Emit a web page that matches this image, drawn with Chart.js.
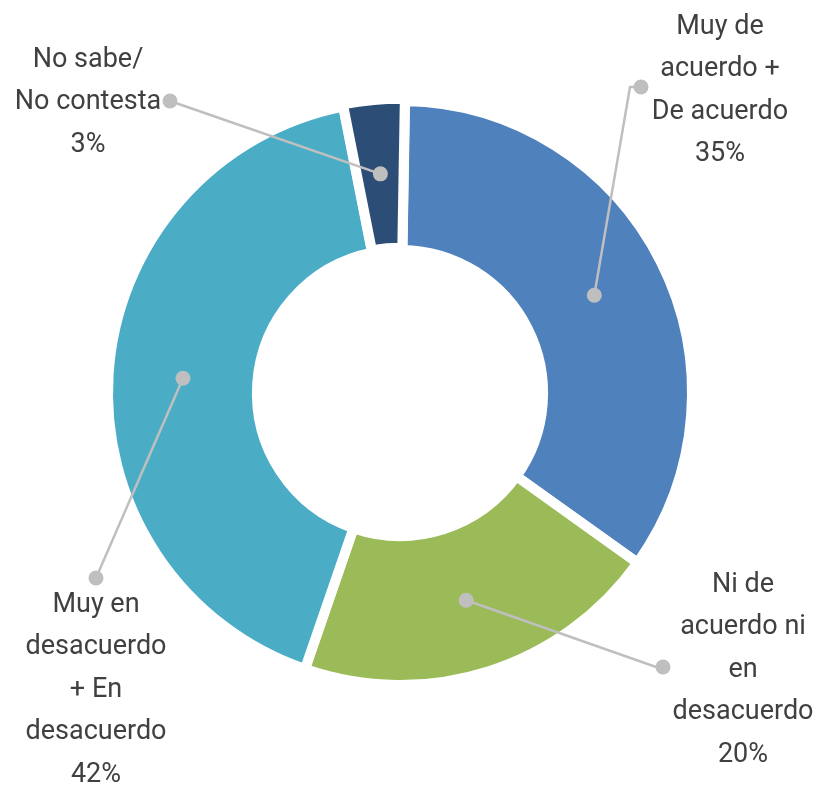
<!DOCTYPE html>
<html>
<head>
<meta charset="utf-8">
<script src="https://cdn.jsdelivr.net/npm/chart.js@4/dist/chart.umd.min.js"></script>
<style>
  html, body { margin: 0; padding: 0; background: #fff; }
  #wrap { width: 817px; height: 786px; }
</style>
</head>
<body>
<div id="wrap"><canvas id="donut" width="817" height="786"></canvas></div>
<script>
// datos del gráfico
const categories = [
  ['Muy de', 'acuerdo +', 'De acuerdo'],
  ['Ni de', 'acuerdo ni', 'en', 'desacuerdo'],
  ['Muy en', 'desacuerdo', '+ En', 'desacuerdo'],
  ['No sabe/', 'No contesta']
];
const values = [34.6, 20.4, 41.6, 3.4];
const pctLabels = ['35%', '20%', '42%', '3%'];
const colors = ['#4F81BD', '#9BBB59', '#4BACC6', '#2C4D75'];

// posición de las etiquetas (layout)
const labelSpots = [
  { elbow: [630, 87], end: [641, 87], tx: 720, ty: 27 },
  { elbow: [656, 667], end: [663, 667], tx: 743, ty: 585 },
  { elbow: [96, 578], end: [96, 578], tx: 96, ty: 605 },
  { elbow: [170, 101], end: [170, 101], tx: 88, ty: 60 }
];
const lineGap = 42.5;

const leaderLabels = {
  id: 'leaderLabels',
  afterDatasetsDraw(chart) {
    const ctx = chart.ctx;
    const arcs = chart.getDatasetMeta(0).data;
    ctx.save();
    arcs.forEach((arc, i) => {
      const p = arc.tooltipPosition();
      const s = labelSpots[i];
      ctx.strokeStyle = '#BFBFBF';
      ctx.fillStyle = '#BFBFBF';
      ctx.lineWidth = 2.5;
      ctx.beginPath();
      ctx.moveTo(p.x, p.y);
      ctx.lineTo(s.elbow[0], s.elbow[1]);
      ctx.lineTo(s.end[0], s.end[1]);
      ctx.stroke();
      ctx.beginPath();
      ctx.arc(p.x, p.y, 7.5, 0, Math.PI * 2);
      ctx.fill();
      ctx.beginPath();
      ctx.arc(s.end[0], s.end[1], 7.5, 0, Math.PI * 2);
      ctx.fill();

      // texto
      ctx.fillStyle = '#404040';
      ctx.font = '27px Roboto';
      ctx.textAlign = 'center';
      ctx.textBaseline = 'middle';
      const lines = categories[i].concat([pctLabels[i]]);
      lines.forEach((t, k) => ctx.fillText(t, s.tx, s.ty + k * lineGap));
    });
    ctx.restore();
  }
};

new Chart(document.getElementById('donut'), {
  type: 'doughnut',
  data: {
    labels: categories.map(c => c.join(' ')),
    datasets: [{
      data: values,
      backgroundColor: colors,
      borderColor: '#ffffff',
      borderWidth: 10,
      offset: [0, 0, 0, 5],
      hoverOffset: 0
    }]
  },
  options: {
    responsive: false,
    animation: false,
    radius: 292,
    cutout: '49%',
    rotation: 1,
    layout: { padding: { left: 0, right: 17, top: 0, bottom: 0 } },
    plugins: {
      legend: { display: false },
      tooltip: { enabled: false }
    }
  },
  plugins: [leaderLabels]
});
</script>
</body>
</html>
